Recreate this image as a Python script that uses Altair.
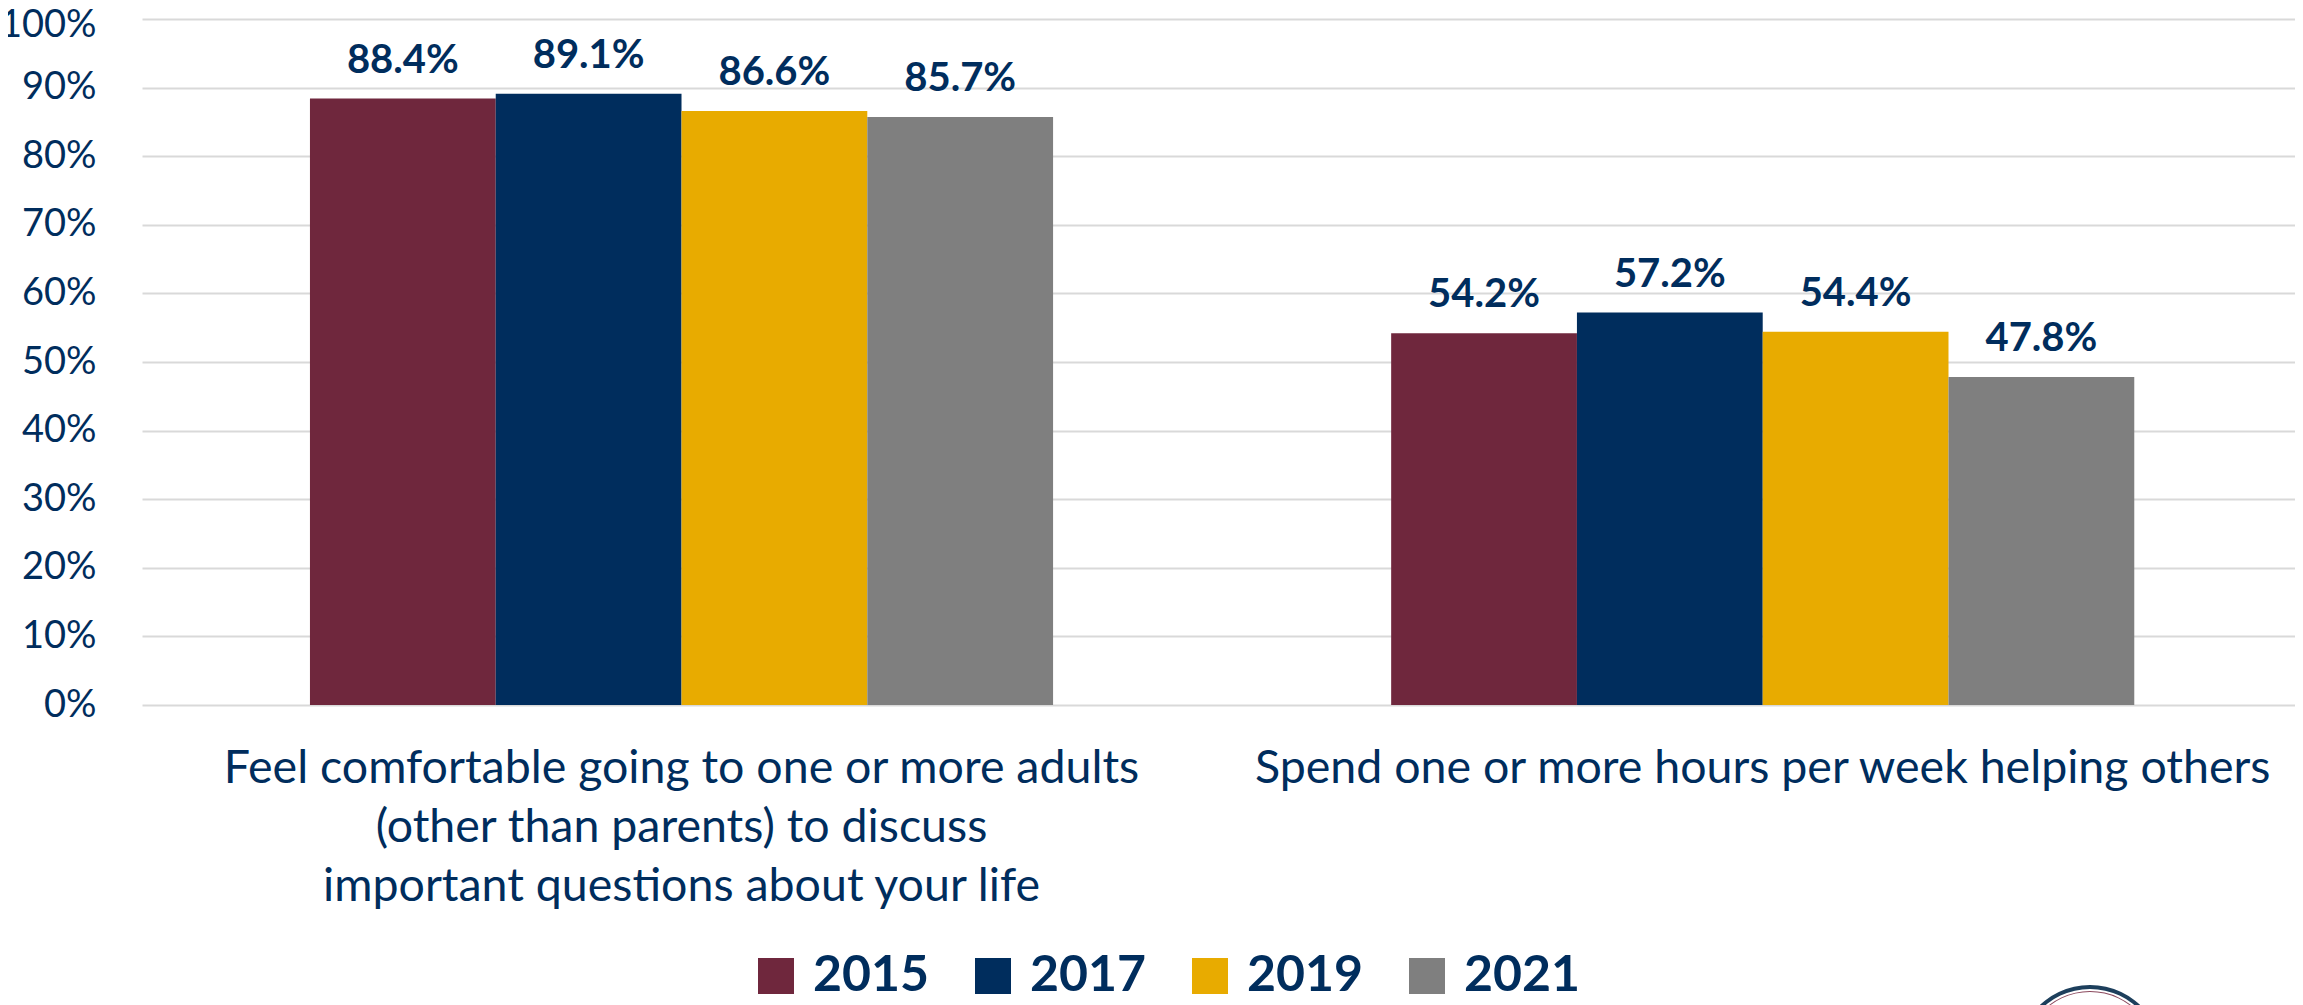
import altair as alt
import pandas as pd

categories = ["Feel comfortable going to one or more adults|(other than parents) to discuss|important questions about your life",
              "Spend one or more hours per week helping others"]
years = ["2015", "2017", "2019", "2021"]
values_a = [88.4, 89.1, 86.6, 85.7]
values_b = [54.2, 57.2, 54.4, 47.8]
colors = ["#6F273D", "#002D5D", "#E8AB00", "#7F7F7F"]
y_ticks = list(range(0, 101, 10))
NAVY = "#002D5D"
FONT = "Lato"

rows = []
for cat, vals in zip(categories, [values_a, values_b]):
    for yr, v in zip(years, vals):
        rows.append({"cat": cat, "year": yr, "value": v, "label": f"{v:.1f}%"})
df = pd.DataFrame(rows)

x = alt.X("cat:N", sort=categories, title=None,
          scale=alt.Scale(paddingInner=0.3127, paddingOuter=0.152, align=0.511, round=False),
          axis=alt.Axis(labelAngle=0, labelExpr="split(datum.label, '|')", labelFont=FONT,
                        labelFontSize=46.5, labelColor=NAVY, labelLineHeight=59, labelPadding=40,
                        ticks=False, domain=False, labelLimit=1200, labelBaseline="top"))
xo = alt.XOffset("year:N", sort=years, scale=alt.Scale(paddingInner=0, paddingOuter=0, round=False))
y = alt.Y("value:Q", title=None, scale=alt.Scale(domain=[0, 100], nice=False),
          axis=alt.Axis(values=y_ticks, labelExpr="datum.value + '%'", labelFont=FONT,
                        labelFontSize=38, labelColor=NAVY, labelPadding=46, ticks=False, domain=False,
                        labelOffset={"condition": {"test": "datum.value == 100", "value": 6}, "value": 0},
                        gridColor="#D9D9D9", gridWidth=2, grid=True))

bars = alt.Chart(df).mark_bar().encode(
    x=x, xOffset=xo, y=y,
    color=alt.Color("year:N", sort=years, scale=alt.Scale(domain=years, range=colors),
                    legend=alt.Legend(title=None, orient="none", legendX=609, legendY=932, direction="horizontal",
                                      columns=4, symbolType="square", symbolSize=1296, symbolStrokeWidth=0,
                                      symbolOpacity=1, labelFont=FONT, labelFontSize=50, labelFontWeight="bold",
                                      labelColor=NAVY, labelOffset=12, columnPadding=38, labelLimit=300)),
)
text = alt.Chart(df).mark_text(font=FONT, fontSize=40, fontWeight="bold", color=NAVY, baseline="bottom", dy=-18).encode(
    x=x, xOffset=xo, y=y, text="label:N"
)

seal = pd.DataFrame({"part": ["outer", "inner"]})
seal_outer = alt.Chart(seal.iloc[[0]]).mark_arc(theta=5.4, theta2=7.166, radius=73, radius2=69, color="#1D3F5C").encode(
    x=alt.value(1948), y=alt.value(1039))
seal_inner = alt.Chart(seal.iloc[[1]]).mark_arc(theta=5.4, theta2=7.166, radius=67, radius2=66, color="#8C4A5E").encode(
    x=alt.value(1948), y=alt.value(1039))

chart = (bars + text + seal_outer + seal_inner).properties(
    width=2153, height=686,
    padding={"left": 134, "top": 11, "right": 0, "bottom": 300},
    autosize=alt.AutoSizeParams(type="none"),
).configure_view(stroke=None)

chart.save("out.html", embed_options={"renderer": "svg", "actions": False})
